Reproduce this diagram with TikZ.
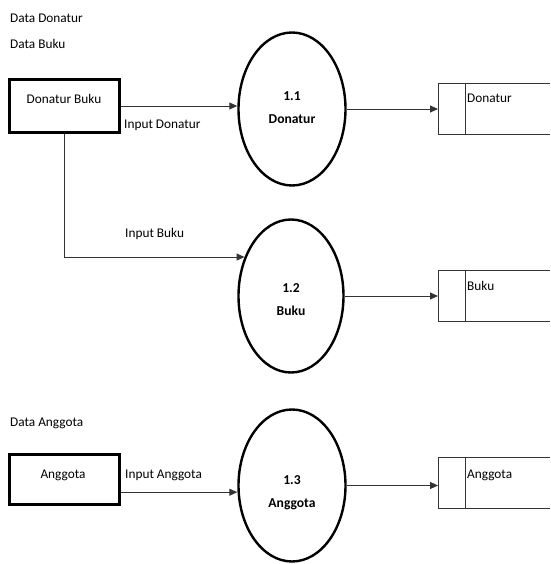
\documentclass[tikz,border=0pt]{standalone}
\usepackage{fontspec}
\setmainfont{Carlito}
\usetikzlibrary{arrows.meta,shapes.geometric,calc}
\begin{document}
\begin{tikzpicture}[x=1pt,y=-1pt,
  every node/.style={font=\fontsize{13.3}{23}\selectfont},
  extbox/.style={draw=black,line width=3pt,rectangle,inner sep=0pt,minimum width=110pt,minimum height=#1},
  proc/.style={draw=black,line width=2.4pt,ellipse,inner sep=0pt,minimum width=107pt,minimum height=153pt},
  ptxt/.style={inner sep=0pt,align=center,font=\fontsize{13.6}{23}\selectfont\bfseries},
  store/.style={rectangle,inner sep=0pt,outer sep=0pt,minimum width=112pt,minimum height=51pt},
  storeline/.style={draw=black!80,line width=0.9pt},
  flow/.style={draw=black!80,line width=0.9pt,-{Triangle[length=8pt,width=7pt]}},
  txt/.style={inner sep=0pt,anchor=base west},
  ctxt/.style={inner sep=0pt,anchor=base}]
\useasboundingbox (0,0) rectangle (550,564);

% captions
\node[txt] (cap1) at (10,23) {Data Donatur};
\node[txt] (cap2) at (10,49) {Data Buku};
\node[txt] (cap3) at (10,426) {Data Anggota};

% external entities
\node[extbox=53pt] (ext1) at (64.5,106) {};
\node[ctxt] (ext1t) at (64,104) {Donatur Buku};
\node[extbox=50pt] (ext3) at (64.5,479.5) {};
\node[ctxt] (ext3t) at (63,478) {Anggota};

% processes
\node[proc] (p11) at (292,109) {};
\node[ptxt] (p11t) at (292,108) {1.1\\Donatur};
\node[proc,minimum width=105pt] (p12) at (291,296) {};
\node[ptxt] (p12t) at (291,300) {1.2\\Buku};
\node[proc,minimum width=107pt,minimum height=152pt] (p13) at (292,485.5) {};
\node[ptxt] (p13t) at (292,493) {1.3\\Anggota};

% data stores
\node[store] (s1) at (494,108.5) {};
\node[store] (s2) at (494,295.5) {};
\node[store] (s3) at (494,482.5) {};
\foreach \s in {s1,s2,s3}{
  \draw[storeline] (\s.north east) -- (\s.north west) -- (\s.south west) -- (\s.south east);
  \draw[storeline] ($(\s.north west)+(27,0)$) -- ($(\s.south west)+(27,0)$);
}
\node[txt] (s1t) at (467,103) {Donatur};
\node[txt] (s2t) at (467,290) {Buku};
\node[txt] (s3t) at (467,478) {Anggota};

% flows
\draw[flow] (ext1.east) -- (ext1.east -| p11.west);
\node[txt] (l1) at (124,129) {Input Donatur};
\draw[flow] (ext1.south) |- (p12.140);
\node[txt] (l2) at (125,237) {Input Buku};
\coordinate (a3) at ($(ext3.south east)!0.26!(ext3.north east)$);
\draw[flow] (a3) -- (a3 -| p13.west);
\node[txt] (l3) at (125,478) {Input Anggota};

\draw[flow] (p11.east) -- (p11.east -| s1.west);
\draw[flow] (p12.east) -- (p12.east -| s2.west);
\draw[flow] (p13.east) -- (p13.east -| s3.west);
\end{tikzpicture}
\end{document}
